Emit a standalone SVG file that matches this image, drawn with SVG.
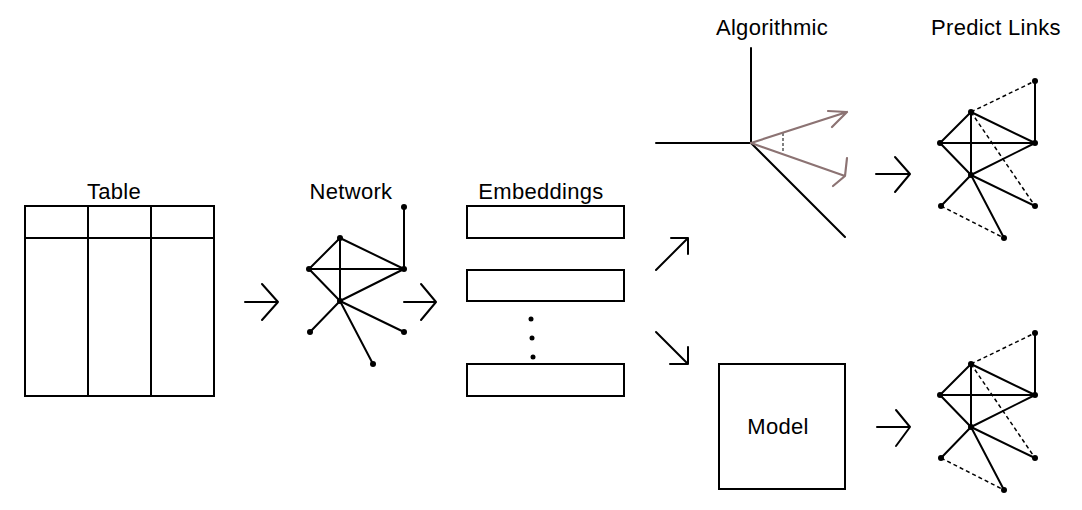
<svg xmlns="http://www.w3.org/2000/svg" width="1082" height="510" viewBox="0 0 1082 510">
<style>
.ln{stroke:#000;stroke-width:2;fill:none;stroke-linecap:round;stroke-linejoin:round}
.bx{stroke:#000;stroke-width:2;fill:#fff}
.ds{stroke:#000;stroke-width:1.5;fill:none;stroke-dasharray:4 3}
.vec{stroke:#8c7373;stroke-width:2.2;fill:none;stroke-linecap:round;stroke-linejoin:round}
.nd{fill:#000}
.lbl{font-family:"Liberation Sans",Arial,sans-serif;font-size:22px;fill:#000;text-anchor:middle;letter-spacing:0.3px}
</style>
<defs>
<g id="graph">
<line class="ln" x1="404" y1="207" x2="404" y2="269"/>
<line class="ln" x1="340" y1="238" x2="309" y2="269"/>
<line class="ln" x1="340" y1="238" x2="404" y2="269"/>
<line class="ln" x1="340" y1="238" x2="340" y2="301"/>
<line class="ln" x1="309" y1="269" x2="404" y2="269"/>
<line class="ln" x1="309" y1="269" x2="340" y2="301"/>
<line class="ln" x1="340" y1="301" x2="404" y2="269"/>
<line class="ln" x1="340" y1="301" x2="310" y2="332"/>
<line class="ln" x1="340" y1="301" x2="404" y2="332"/>
<line class="ln" x1="340" y1="301" x2="373" y2="364"/>
<circle class="nd" cx="404" cy="207" r="3"/>
<circle class="nd" cx="340" cy="238" r="3"/>
<circle class="nd" cx="309" cy="269" r="3"/>
<circle class="nd" cx="404" cy="269" r="3"/>
<circle class="nd" cx="340" cy="301" r="3"/>
<circle class="nd" cx="310" cy="332" r="3"/>
<circle class="nd" cx="404" cy="332" r="3"/>
<circle class="nd" cx="373" cy="364" r="3"/>
</g>
<g id="dashes">
<line class="ds" x1="340" y1="238" x2="404" y2="207"/>
<line class="ds" x1="340" y1="238" x2="404" y2="332"/>
<line class="ds" x1="310" y1="332" x2="373" y2="364"/>
</g>
</defs>
<rect width="1082" height="510" fill="#fff"/>

<g id="table">
<rect class="bx" x="25" y="206" width="189" height="190"/>
<line class="ln" x1="25" y1="238" x2="214" y2="238"/>
<line class="ln" x1="88" y1="206" x2="88" y2="396"/>
<line class="ln" x1="151" y1="206" x2="151" y2="396"/>
<text class="lbl" x="114" y="199">Table</text>
</g>

<g id="network">
<use href="#graph"/>
<text class="lbl" x="351" y="199">Network</text>
</g>

<g id="embeddings">
<rect class="bx" x="467" y="206" width="157" height="32"/>
<rect class="bx" x="467" y="270" width="157" height="31"/>
<rect class="bx" x="467" y="364" width="157" height="32"/>
<circle class="nd" cx="531" cy="319" r="2.5"/>
<circle class="nd" cx="532" cy="338" r="2.5"/>
<circle class="nd" cx="533" cy="357" r="2.5"/>
<text class="lbl" x="541" y="199">Embeddings</text>
</g>

<g id="algorithmic">
<line class="ln" x1="751" y1="48" x2="751" y2="143"/>
<line class="ln" x1="656" y1="143" x2="751" y2="143"/>
<line class="ln" x1="751" y1="143" x2="845" y2="237"/>
<line class="ds" x1="783" y1="133" x2="783" y2="153" style="stroke:#555;stroke-dasharray:3 2"/>
<path class="vec" d="M751 143 L847 112 M828 111 L847 112 L832 127"/>
<path class="vec" d="M751 143 L845 176 M847 158 L845 176 L833 186"/>
<text class="lbl" x="772" y="35">Algorithmic</text>
</g>

<g id="model">
<rect class="bx" x="719" y="364" width="126" height="125"/>
<text class="lbl" x="778" y="434">Model</text>
</g>

<g id="predict-top">
<use href="#graph" transform="translate(631,-126)"/>
<use href="#dashes" transform="translate(631,-126)"/>
<text class="lbl" x="996" y="35">Predict Links</text>
</g>

<g id="predict-bottom">
<use href="#graph" transform="translate(631,126)"/>
<use href="#dashes" transform="translate(631,126)"/>
</g>

<g id="connectors">
<path class="ln" d="M245 302 H278 M262 284 L278 302 L262 320"/>
<path class="ln" d="M404 302 H436 M421 284 L436 302 L421 320"/>
<path class="ln" d="M656 270 L688 238 M671 238 H688 V254"/>
<path class="ln" d="M656 332 L688 364 M688 347 V364 H670"/>
<path class="ln" d="M876 174 H910 M895 157 L910 174 L895 192"/>
<path class="ln" d="M877 427 H910 M896 410 L910 427 L896 446"/>
</g>
</svg>
